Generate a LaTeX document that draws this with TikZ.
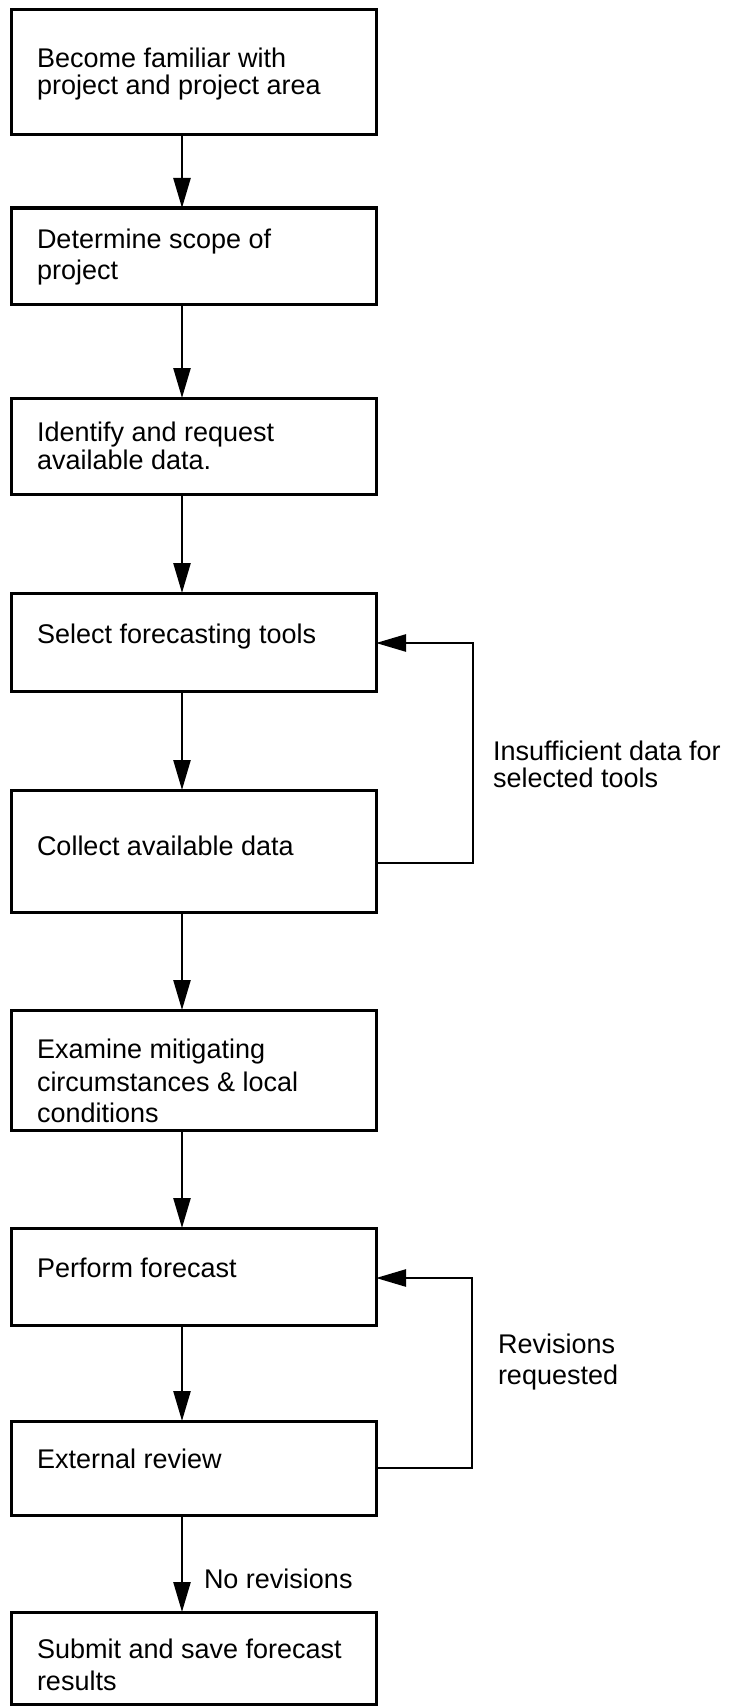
\documentclass[tikz,border=0pt]{standalone}
\usepackage{fontspec}
\setmainfont{Liberation Sans}
\usetikzlibrary{arrows.meta}
\begin{document}
\begin{tikzpicture}[x=1pt,y=-1pt,
  box/.style={draw=black, line width=3pt, rectangle, inner sep=0pt, outer sep=0pt, minimum width=365pt},
  lbl/.style={inner sep=0pt, outer sep=0pt, anchor=base west, font=\fontsize{27}{32}\selectfont},
  arr/.style={line width=2.5pt, -{Triangle[length=30pt,width=17pt]}},
  loopline/.style={line width=2.5pt, -{Triangle[length=30pt,width=17pt]}}]
\useasboundingbox (0,0) rectangle (733,1707);
\fill[white] (0,0) rectangle (733,1707);
\coordinate (ax) at (182,0);
\coordinate (lx1) at (473,0);
\coordinate (lx2) at (472,0);
% boxes
\node[box, minimum height=125pt] (b1) at (193.5,72.5) {};
\node[box, minimum height=96pt]  (b2) at (193.5,256) {};
\node[box, minimum height=96pt]  (b3) at (193.5,446) {};
\node[box, minimum height=98pt]  (b4) at (193.5,642) {};
\node[box, minimum height=122pt] (b5) at (193.5,851) {};
\node[box, minimum height=120pt] (b6) at (193.5,1070) {};
\node[box, minimum height=97pt]  (b7) at (193.5,1276.5) {};
\node[box, minimum height=94pt]  (b8) at (193.5,1468) {};
\node[box, minimum height=92pt]  (b9) at (193.5,1658) {};
% texts
\node[lbl] (t1a) at (37,68) {Become familiar with};
\node[lbl] (t1b) at (37,95) {project and project area};
\node[lbl] (t2a) at (37,248) {Determine scope of};
\node[lbl] (t2b) at (37,279) {project};
\node[lbl] (t3a) at (37,441) {Identify and request};
\node[lbl] (t3b) at (37,469) {available data.};
\node[lbl] (t4) at (37,643) {Select forecasting tools};
\node[lbl] (t5) at (37,855) {Collect available data};
\node[lbl] (t6a) at (37,1058) {Examine mitigating};
\node[lbl] (t6b) at (37,1091) {circumstances \& local};
\node[lbl] (t6c) at (37,1122) {conditions};
\node[lbl] (t7) at (37,1277) {Perform forecast};
\node[lbl] (t8) at (37,1468) {External review};
\node[lbl] (t9a) at (37,1658) {Submit and save forecast};
\node[lbl] (t9b) at (37,1690) {results};
% side labels
\node[lbl] (l1a) at (493,760) {Insufficient data for};
\node[lbl] (l1b) at (493,787) {selected tools};
\node[lbl] (l2a) at (498,1353) {Revisions};
\node[lbl] (l2b) at (498,1384) {requested};
\node[lbl] (l3) at (204,1588) {No revisions};
% vertical arrows
\draw[arr] (b1.south -| ax) -- (b2.north -| ax);
\draw[arr] (b2.south -| ax) -- (b3.north -| ax);
\draw[arr] (b3.south -| ax) -- (b4.north -| ax);
\draw[arr] (b4.south -| ax) -- (b5.north -| ax);
\draw[arr] (b5.south -| ax) -- (b6.north -| ax);
\draw[arr] (b6.south -| ax) -- (b7.north -| ax);
\draw[arr] (b7.south -| ax) -- (b8.north -| ax);
\draw[arr] (b8.south -| ax) -- (b9.north -| ax);
% loops
\coordinate (p1a) at (376,863);
\coordinate (p1b) at (376,643);
\draw[loopline] (b5.east |- p1a) -- (lx1 |- p1a) -- (lx1 |- p1b) -- (b4.east |- p1b);
\coordinate (p2a) at (376,1468);
\coordinate (p2b) at (376,1278);
\draw[loopline] (b8.east |- p2a) -- (lx2 |- p2a) -- (lx2 |- p2b) -- (b7.east |- p2b);
\end{tikzpicture}
\end{document}
